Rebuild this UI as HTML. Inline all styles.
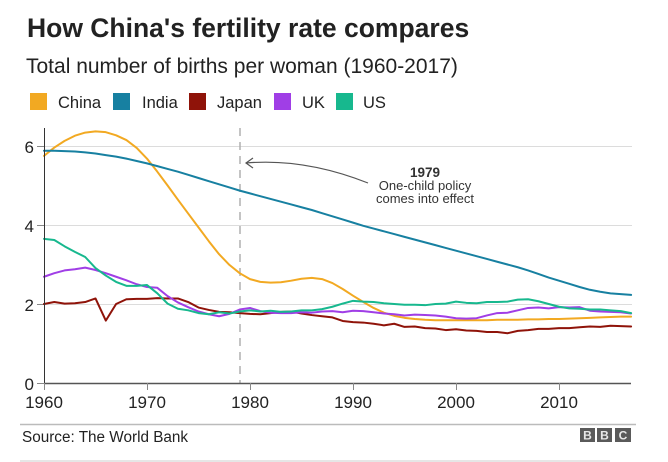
<!DOCTYPE html>
<html>
<head>
<meta charset="utf-8">
<style>
  html, body { margin: 0; padding: 0; background: #ffffff; }
  body { width: 668px; height: 462px; overflow: hidden; }
  svg { display: block; font-family: "Liberation Sans", Arial, sans-serif; }
</style>
</head>
<body>
<svg width="668" height="462" viewBox="0 0 668 462" xmlns="http://www.w3.org/2000/svg">
  <rect x="0" y="0" width="668" height="462" fill="#ffffff"/>

  <!-- Title -->
  <text x="27" y="37" font-size="26.5" font-weight="bold" fill="#222222">How China's fertility rate compares</text>
  <text x="26" y="73" font-size="21" fill="#222222">Total number of births per woman (1960-2017)</text>

  <!-- Legend -->
  <g font-size="16.5" fill="#222222">
    <rect x="30" y="93" width="17" height="17" fill="#f2a922"/>
    <text x="58" y="108">China</text>
    <rect x="113" y="93" width="17" height="17" fill="#1780a1"/>
    <text x="142" y="108">India</text>
    <rect x="189" y="93" width="17" height="17" fill="#8f1309"/>
    <text x="217" y="108">Japan</text>
    <rect x="274" y="93" width="17" height="17" fill="#a03ee6"/>
    <text x="302" y="108">UK</text>
    <rect x="336" y="93" width="17" height="17" fill="#17b88e"/>
    <text x="363" y="108">US</text>
  </g>

  <!-- Gridlines -->
  <g stroke="#dcdcdc" stroke-width="1">
    <line x1="44" y1="146.5" x2="632" y2="146.5"/>
    <line x1="44" y1="225.5" x2="632" y2="225.5"/>
    <line x1="44" y1="304.5" x2="632" y2="304.5"/>
  </g>

  <!-- y ticks -->
  <g stroke="#888888" stroke-width="1">
    <line x1="37" y1="146.5" x2="44" y2="146.5"/>
    <line x1="37" y1="225.5" x2="44" y2="225.5"/>
    <line x1="37" y1="304.5" x2="44" y2="304.5"/>
    <line x1="37" y1="383.5" x2="44" y2="383.5"/>
  </g>
  <g font-size="17" fill="#222222" text-anchor="end">
    <text x="34" y="153">6</text>
    <text x="34" y="232">4</text>
    <text x="34" y="311">2</text>
    <text x="34" y="390">0</text>
  </g>

  <!-- 1979 dashed line -->
  <line x1="240" y1="128" x2="240" y2="383" stroke="#b0b0b0" stroke-width="1.5" stroke-dasharray="8,6"/>

  <!-- Series -->
  <g transform="translate(44,383) scale(10.3,-39.5)" fill="none" stroke-width="2" stroke-linejoin="round" stroke-linecap="round">
    <!-- China -->
    <polyline vector-effect="non-scaling-stroke" stroke="#f2a922" points="0,5.75 1,5.96 2,6.13 3,6.26 4,6.34 5,6.37 6,6.35 7,6.27 8,6.15 9,5.95 10,5.68 11,5.35 12,5.0 13,4.64 14,4.29 15,3.94 16,3.59 17,3.26 18,2.99 19,2.78 20,2.63 21,2.56 22,2.54 23,2.55 24,2.59 25,2.64 26,2.66 27,2.63 28,2.53 29,2.38 30,2.21 31,2.05 32,1.90 33,1.78 34,1.70 35,1.65 36,1.62 37,1.60 38,1.59 39,1.59 40,1.59 41,1.59 42,1.59 43,1.59 44,1.60 45,1.60 46,1.60 47,1.61 48,1.61 49,1.62 50,1.62 51,1.63 52,1.64 53,1.65 54,1.66 55,1.67 56,1.68 57,1.68"/>
    <!-- India -->
    <polyline vector-effect="non-scaling-stroke" stroke="#1780a1" points="0,5.88 1,5.88 2,5.87 3,5.86 4,5.84 5,5.81 6,5.77 7,5.73 8,5.68 9,5.62 10,5.56 11,5.49 12,5.42 13,5.35 14,5.27 15,5.19 16,5.11 17,5.03 18,4.95 19,4.87 20,4.80 21,4.73 22,4.66 23,4.59 24,4.52 25,4.45 26,4.38 27,4.30 28,4.22 29,4.14 30,4.06 31,3.98 32,3.91 33,3.84 34,3.77 35,3.70 36,3.63 37,3.56 38,3.49 39,3.42 40,3.35 41,3.28 42,3.21 43,3.14 44,3.07 45,3.00 46,2.93 47,2.85 48,2.76 49,2.67 50,2.59 51,2.51 52,2.43 53,2.36 54,2.31 55,2.27 56,2.25 57,2.23"/>
    <!-- Japan -->
    <polyline vector-effect="non-scaling-stroke" stroke="#8f1309" points="0,2.00 1,2.05 2,2.01 3,2.02 4,2.05 5,2.14 6,1.58 7,2.00 8,2.12 9,2.13 10,2.13 11,2.15 12,2.14 13,2.14 14,2.05 15,1.91 16,1.85 17,1.80 18,1.79 19,1.77 20,1.75 21,1.74 22,1.77 23,1.80 24,1.81 25,1.76 26,1.72 27,1.69 28,1.66 29,1.57 30,1.54 31,1.53 32,1.50 33,1.46 34,1.50 35,1.42 36,1.43 37,1.39 38,1.38 39,1.34 40,1.36 41,1.33 42,1.32 43,1.29 44,1.29 45,1.26 46,1.32 47,1.34 48,1.37 49,1.37 50,1.39 51,1.39 52,1.41 53,1.43 54,1.42 55,1.45 56,1.44 57,1.43"/>
    <!-- UK -->
    <polyline vector-effect="non-scaling-stroke" stroke="#a03ee6" points="0,2.69 1,2.78 2,2.85 3,2.88 4,2.92 5,2.86 6,2.78 7,2.69 8,2.60 9,2.50 10,2.43 11,2.41 12,2.20 13,2.04 14,1.92 15,1.81 16,1.74 17,1.69 18,1.75 19,1.86 20,1.90 21,1.82 22,1.78 23,1.77 24,1.77 25,1.79 26,1.78 27,1.81 28,1.82 29,1.79 30,1.83 31,1.82 32,1.79 33,1.76 34,1.74 35,1.71 36,1.73 37,1.72 38,1.71 39,1.68 40,1.64 41,1.63 42,1.64 43,1.71 44,1.77 45,1.78 46,1.84 47,1.90 48,1.91 49,1.89 50,1.92 51,1.91 52,1.92 53,1.83 54,1.81 55,1.80 56,1.79 57,1.76"/>
    <!-- US -->
    <polyline vector-effect="non-scaling-stroke" stroke="#17b88e" points="0,3.65 1,3.62 2,3.46 3,3.32 4,3.19 5,2.91 6,2.72 7,2.56 8,2.46 9,2.46 10,2.48 11,2.27 12,2.01 13,1.88 14,1.84 15,1.77 16,1.74 17,1.79 18,1.76 19,1.81 20,1.84 21,1.81 22,1.83 23,1.80 24,1.81 25,1.84 26,1.84 27,1.87 28,1.93 29,2.01 30,2.08 31,2.06 32,2.05 33,2.02 34,2.00 35,1.98 36,1.98 37,1.97 38,2.00 39,2.01 40,2.06 41,2.03 42,2.02 43,2.05 44,2.05 45,2.06 46,2.11 47,2.12 48,2.07 49,2.00 50,1.93 51,1.89 52,1.88 53,1.86 54,1.86 55,1.84 56,1.82 57,1.77"/>
  </g>

  <!-- Axes -->
  <line x1="44.5" y1="128" x2="44.5" y2="384" stroke="#333333" stroke-width="1"/>
  <line x1="44" y1="383.5" x2="631" y2="383.5" stroke="#555555" stroke-width="1.5"/>
  <g stroke="#888888" stroke-width="1">
    <line x1="44.5" y1="383" x2="44.5" y2="390"/>
    <line x1="147.5" y1="383" x2="147.5" y2="390"/>
    <line x1="250.5" y1="383" x2="250.5" y2="390"/>
    <line x1="353.5" y1="383" x2="353.5" y2="390"/>
    <line x1="456.5" y1="383" x2="456.5" y2="390"/>
    <line x1="559.5" y1="383" x2="559.5" y2="390"/>
  </g>
  <g font-size="17" fill="#222222" text-anchor="middle">
    <text x="44" y="408">1960</text>
    <text x="147" y="408">1970</text>
    <text x="250" y="408">1980</text>
    <text x="353" y="408">1990</text>
    <text x="456" y="408">2000</text>
    <text x="559" y="408">2010</text>
  </g>

  <!-- Annotation -->
  <path d="M368,183 Q305,158 246,163" fill="none" stroke="#555555" stroke-width="1.2"/>
  <path d="M253,158 L246,163 L253,168" fill="none" stroke="#555555" stroke-width="1.2"/>
  <g text-anchor="middle" fill="#333333">
    <text x="425" y="177" font-size="13.5" font-weight="bold">1979</text>
    <text x="425" y="190" font-size="13">One-child policy</text>
    <text x="425" y="203" font-size="13">comes into effect</text>
  </g>

  <!-- Footer -->
  <line x1="20" y1="424.5" x2="636" y2="424.5" stroke="#bbbbbb" stroke-width="1.5"/>
  <text x="22" y="442" font-size="15.3" fill="#222222">Source: The World Bank</text>
  <g>
    <rect x="580" y="428" width="15" height="14" fill="#5a5a5a"/>
    <rect x="597" y="428" width="15" height="14" fill="#5a5a5a"/>
    <rect x="615" y="428" width="16" height="14" fill="#5a5a5a"/>
    <g font-size="12" font-weight="bold" fill="#e8e8e8" text-anchor="middle">
      <text x="587.5" y="439.5">B</text>
      <text x="604.5" y="439.5">B</text>
      <text x="623" y="439.5">C</text>
    </g>
  </g>
  <line x1="20" y1="461" x2="610" y2="461" stroke="#cccccc" stroke-width="1"/>
</svg>
</body>
</html>
